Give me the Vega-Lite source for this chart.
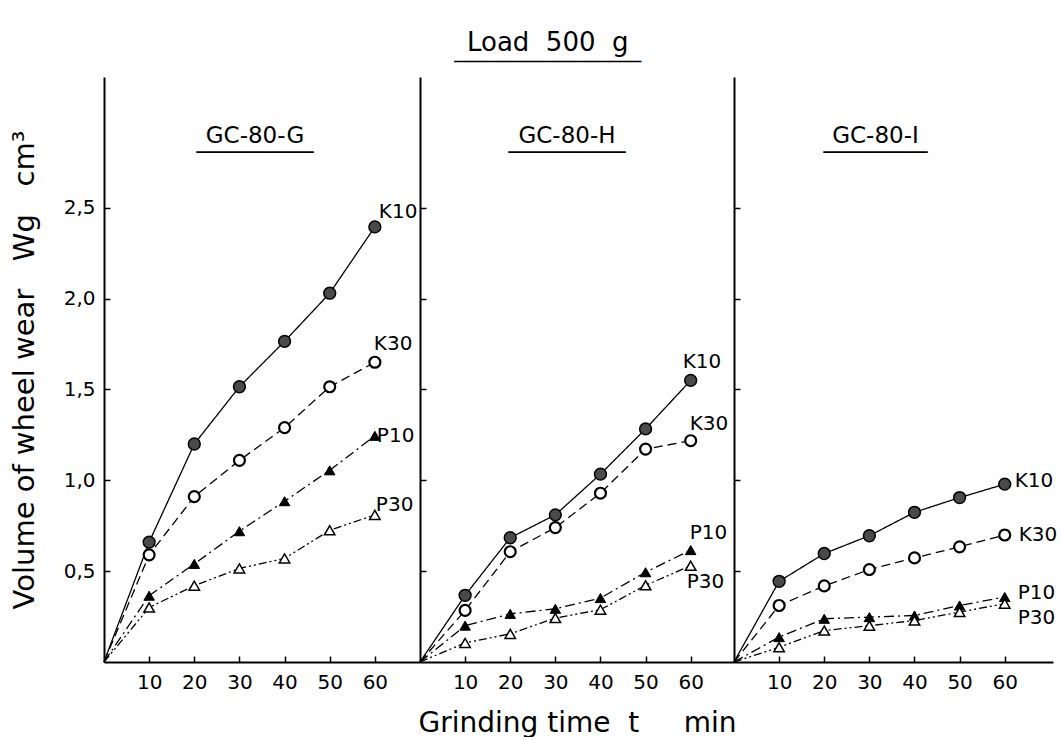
{
  "$schema": "https://vega.github.io/schema/vega-lite/v6.json",
  "background": "white",
  "padding": {"left": 10, "top": 30, "right": 0, "bottom": 0},
  "bounds": "flush",
  "spacing": 0,
  "title": {
    "text": "Load\u00a0\u00a0500\u00a0\u00a0g",
    "subtitle": "\u203e\u203e\u203e\u203e\u203e\u203e\u203e\u203e\u203e\u203e\u203e\u203e\u203e\u203e\u203e\u203e\u203e",
    "fontSize": 26,
    "fontWeight": "normal",
    "subtitleFontSize": 22,
    "subtitlePadding": 4,
    "anchor": "middle",
    "frame": "bounds",
    "dx": 14,
    "offset": -4,
    "color": "black",
    "subtitleColor": "black"
  },
  "config": {
    "font": "DejaVu Sans",
    "view": {"stroke": null},
    "axis": {
      "domainColor": "black",
      "domainWidth": 2,
      "tickColor": "black",
      "tickWidth": 1.5,
      "labelColor": "black",
      "titleColor": "black",
      "labelFontSize": 20,
      "titleFontSize": 29,
      "titleFontWeight": "normal",
      "grid": false
    }
  },
  "datasets": {
    "wear": [
      {"panel": "GC-80-G", "series": "K10", "t": 0, "v": 0},
      {"panel": "GC-80-G", "series": "K10", "t": 10, "v": 0.66},
      {"panel": "GC-80-G", "series": "K10", "t": 20, "v": 1.2},
      {"panel": "GC-80-G", "series": "K10", "t": 30, "v": 1.515},
      {"panel": "GC-80-G", "series": "K10", "t": 40, "v": 1.765},
      {"panel": "GC-80-G", "series": "K10", "t": 50, "v": 2.03},
      {"panel": "GC-80-G", "series": "K10", "t": 60, "v": 2.395},
      {"panel": "GC-80-G", "series": "K30", "t": 0, "v": 0},
      {"panel": "GC-80-G", "series": "K30", "t": 10, "v": 0.59},
      {"panel": "GC-80-G", "series": "K30", "t": 20, "v": 0.91},
      {"panel": "GC-80-G", "series": "K30", "t": 30, "v": 1.11},
      {"panel": "GC-80-G", "series": "K30", "t": 40, "v": 1.29},
      {"panel": "GC-80-G", "series": "K30", "t": 50, "v": 1.515},
      {"panel": "GC-80-G", "series": "K30", "t": 60, "v": 1.65},
      {"panel": "GC-80-G", "series": "P10", "t": 0, "v": 0},
      {"panel": "GC-80-G", "series": "P10", "t": 10, "v": 0.365},
      {"panel": "GC-80-G", "series": "P10", "t": 20, "v": 0.54},
      {"panel": "GC-80-G", "series": "P10", "t": 30, "v": 0.72},
      {"panel": "GC-80-G", "series": "P10", "t": 40, "v": 0.885},
      {"panel": "GC-80-G", "series": "P10", "t": 50, "v": 1.055},
      {"panel": "GC-80-G", "series": "P10", "t": 60, "v": 1.245},
      {"panel": "GC-80-G", "series": "P30", "t": 0, "v": 0},
      {"panel": "GC-80-G", "series": "P30", "t": 10, "v": 0.3},
      {"panel": "GC-80-G", "series": "P30", "t": 20, "v": 0.42},
      {"panel": "GC-80-G", "series": "P30", "t": 30, "v": 0.515},
      {"panel": "GC-80-G", "series": "P30", "t": 40, "v": 0.57},
      {"panel": "GC-80-G", "series": "P30", "t": 50, "v": 0.725},
      {"panel": "GC-80-G", "series": "P30", "t": 60, "v": 0.81},
      {"panel": "GC-80-H", "series": "K10", "t": 0, "v": 0},
      {"panel": "GC-80-H", "series": "K10", "t": 10, "v": 0.367},
      {"panel": "GC-80-H", "series": "K10", "t": 20, "v": 0.684},
      {"panel": "GC-80-H", "series": "K10", "t": 30, "v": 0.81},
      {"panel": "GC-80-H", "series": "K10", "t": 40, "v": 1.034},
      {"panel": "GC-80-H", "series": "K10", "t": 50, "v": 1.283},
      {"panel": "GC-80-H", "series": "K10", "t": 60, "v": 1.55},
      {"panel": "GC-80-H", "series": "K30", "t": 0, "v": 0},
      {"panel": "GC-80-H", "series": "K30", "t": 10, "v": 0.284},
      {"panel": "GC-80-H", "series": "K30", "t": 20, "v": 0.607},
      {"panel": "GC-80-H", "series": "K30", "t": 30, "v": 0.74},
      {"panel": "GC-80-H", "series": "K30", "t": 40, "v": 0.929},
      {"panel": "GC-80-H", "series": "K30", "t": 50, "v": 1.172},
      {"panel": "GC-80-H", "series": "K30", "t": 60, "v": 1.218},
      {"panel": "GC-80-H", "series": "P10", "t": 0, "v": 0},
      {"panel": "GC-80-H", "series": "P10", "t": 10, "v": 0.2},
      {"panel": "GC-80-H", "series": "P10", "t": 20, "v": 0.265},
      {"panel": "GC-80-H", "series": "P10", "t": 30, "v": 0.293},
      {"panel": "GC-80-H", "series": "P10", "t": 40, "v": 0.352},
      {"panel": "GC-80-H", "series": "P10", "t": 50, "v": 0.494},
      {"panel": "GC-80-H", "series": "P10", "t": 60, "v": 0.616},
      {"panel": "GC-80-H", "series": "P30", "t": 0, "v": 0},
      {"panel": "GC-80-H", "series": "P30", "t": 10, "v": 0.105},
      {"panel": "GC-80-H", "series": "P30", "t": 20, "v": 0.155},
      {"panel": "GC-80-H", "series": "P30", "t": 30, "v": 0.242},
      {"panel": "GC-80-H", "series": "P30", "t": 40, "v": 0.288},
      {"panel": "GC-80-H", "series": "P30", "t": 50, "v": 0.422},
      {"panel": "GC-80-H", "series": "P30", "t": 60, "v": 0.53},
      {"panel": "GC-80-I", "series": "K10", "t": 0, "v": 0},
      {"panel": "GC-80-I", "series": "K10", "t": 10, "v": 0.444},
      {"panel": "GC-80-I", "series": "K10", "t": 20, "v": 0.597},
      {"panel": "GC-80-I", "series": "K10", "t": 30, "v": 0.695},
      {"panel": "GC-80-I", "series": "K10", "t": 40, "v": 0.824},
      {"panel": "GC-80-I", "series": "K10", "t": 50, "v": 0.905},
      {"panel": "GC-80-I", "series": "K10", "t": 60, "v": 0.979},
      {"panel": "GC-80-I", "series": "K30", "t": 0, "v": 0},
      {"panel": "GC-80-I", "series": "K30", "t": 10, "v": 0.311},
      {"panel": "GC-80-I", "series": "K30", "t": 20, "v": 0.419},
      {"panel": "GC-80-I", "series": "K30", "t": 30, "v": 0.509},
      {"panel": "GC-80-I", "series": "K30", "t": 40, "v": 0.573},
      {"panel": "GC-80-I", "series": "K30", "t": 50, "v": 0.634},
      {"panel": "GC-80-I", "series": "K30", "t": 60, "v": 0.699},
      {"panel": "GC-80-I", "series": "P10", "t": 0, "v": 0},
      {"panel": "GC-80-I", "series": "P10", "t": 10, "v": 0.137},
      {"panel": "GC-80-I", "series": "P10", "t": 20, "v": 0.238},
      {"panel": "GC-80-I", "series": "P10", "t": 30, "v": 0.247},
      {"panel": "GC-80-I", "series": "P10", "t": 40, "v": 0.256},
      {"panel": "GC-80-I", "series": "P10", "t": 50, "v": 0.311},
      {"panel": "GC-80-I", "series": "P10", "t": 60, "v": 0.358},
      {"panel": "GC-80-I", "series": "P30", "t": 0, "v": 0},
      {"panel": "GC-80-I", "series": "P30", "t": 10, "v": 0.081},
      {"panel": "GC-80-I", "series": "P30", "t": 20, "v": 0.173},
      {"panel": "GC-80-I", "series": "P30", "t": 30, "v": 0.2},
      {"panel": "GC-80-I", "series": "P30", "t": 40, "v": 0.228},
      {"panel": "GC-80-I", "series": "P30", "t": 50, "v": 0.275},
      {"panel": "GC-80-I", "series": "P30", "t": 60, "v": 0.321}
    ]
  },
  "hconcat": [
    {
      "width": 316,
      "height": 585,
      "title": {"text": "GC-80-G", "subtitle": "\u203e\u203e\u203e\u203e\u203e\u203e\u203e\u203e\u203e", "orient": "top", "anchor": "middle", "frame": "group",
        "offset": -99, "dx": -7, "fontSize": 23, "fontWeight": "normal", "subtitleFontSize": 26, "subtitlePadding": 2,
        "color": "black", "subtitleColor": "black"},
      "data": {"name": "wear"},
      "transform": [{"filter": "datum.panel === 'GC-80-G'"}],
      "encoding": {
        "x": {"field": "t", "type": "quantitative", "scale": {"domain": [0, 70], "nice": false},
          "axis": {"values": [10, 20, 30, 40, 50, 60], "tickSize": -6, "labelPadding": 16, "title": null}},
        "y": {"field": "v", "type": "quantitative", "scale": {"domain": [0, 3.22], "nice": false},
          "axis": {"values": [0.5, 1, 1.5, 2, 2.5], "tickSize": -6, "labelPadding": 15,
            "labelExpr": "replace(format(datum.value, '.1f'), '.', ',')",
            "title": "Volume of wheel wear\u00a0\u00a0\u00a0Wg\u00a0\u00a0\u00a0cm³", "titlePadding": 24}}
      },
      "layer": [
        {"mark": {"type": "line", "color": "black", "strokeWidth": 1.3},
          "encoding": {"strokeDash": {"field": "series", "type": "nominal",
            "scale": {"domain": ["K10", "K30", "P10", "P30"], "range": [[1, 0], [9, 5], [10, 4, 2, 4], [8, 3, 2, 3, 2, 3]]}, "legend": null}}},
        {"transform": [{"filter": "datum.t > 0 && datum.series === 'K10'"}],
          "mark": {"type": "point", "shape": "circle", "size": 140, "filled": true, "fill": "#4a4a4a", "stroke": "black", "strokeWidth": 1.5, "opacity": 1}},
        {"transform": [{"filter": "datum.t > 0 && datum.series === 'K30'"}],
          "mark": {"type": "point", "shape": "circle", "size": 120, "filled": false, "fill": "white", "stroke": "black", "strokeWidth": 2.2, "opacity": 1}},
        {"transform": [{"filter": "datum.t > 0 && datum.series === 'P10'"}],
          "mark": {"type": "point", "shape": "triangle-up", "size": 110, "filled": true, "fill": "black", "stroke": "black", "strokeWidth": 1, "opacity": 1}},
        {"transform": [{"filter": "datum.t > 0 && datum.series === 'P30'"}],
          "mark": {"type": "point", "shape": "triangle-up", "size": 110, "filled": false, "fill": "white", "stroke": "black", "strokeWidth": 1.5, "opacity": 1}},
        {"transform": [{"filter": "datum.t === 60 && datum.series === 'K10'"}],
          "mark": {"type": "text", "align": "left", "baseline": "middle", "dx": 4, "dy": -15, "fontSize": 20}, "encoding": {"text": {"field": "series"}}},
        {"transform": [{"filter": "datum.t === 60 && datum.series === 'K30'"}],
          "mark": {"type": "text", "align": "left", "baseline": "middle", "dx": -1, "dy": -18, "fontSize": 20}, "encoding": {"text": {"field": "series"}}},
        {"transform": [{"filter": "datum.t === 60 && datum.series === 'P10'"}],
          "mark": {"type": "text", "align": "left", "baseline": "middle", "dx": 2, "dy": 0, "fontSize": 20}, "encoding": {"text": {"field": "series"}}},
        {"transform": [{"filter": "datum.t === 60 && datum.series === 'P30'"}],
          "mark": {"type": "text", "align": "left", "baseline": "middle", "dx": 1, "dy": -10, "fontSize": 20}, "encoding": {"text": {"field": "series"}}}
      ]
    },
    {
      "width": 314,
      "height": 585,
      "title": {"text": "GC-80-H", "subtitle": "\u203e\u203e\u203e\u203e\u203e\u203e\u203e\u203e\u203e", "orient": "top", "anchor": "middle", "frame": "group",
        "offset": -99, "dx": -10, "fontSize": 23, "fontWeight": "normal", "subtitleFontSize": 26, "subtitlePadding": 2,
        "color": "black", "subtitleColor": "black"},
      "data": {"name": "wear"},
      "transform": [{"filter": "datum.panel === 'GC-80-H'"}],
      "encoding": {
        "x": {"field": "t", "type": "quantitative", "scale": {"domain": [0, 69.6], "nice": false},
          "axis": {"values": [10, 20, 30, 40, 50, 60], "tickSize": -6, "labelPadding": 16,
            "title": "Grinding time\u00a0\u00a0t\u00a0\u00a0\u00a0\u00a0\u00a0min", "titleFontSize": 28, "titlePadding": 17}},
        "y": {"field": "v", "type": "quantitative", "scale": {"domain": [0, 3.22], "nice": false},
          "axis": {"values": [0.5, 1, 1.5, 2, 2.5], "tickSize": -6, "labels": false, "title": null}}
      },
      "layer": [
        {"mark": {"type": "line", "color": "black", "strokeWidth": 1.3},
          "encoding": {"strokeDash": {"field": "series", "type": "nominal",
            "scale": {"domain": ["K10", "K30", "P10", "P30"], "range": [[1, 0], [9, 5], [10, 4, 2, 4], [8, 3, 2, 3, 2, 3]]}, "legend": null}}},
        {"transform": [{"filter": "datum.t > 0 && datum.series === 'K10'"}],
          "mark": {"type": "point", "shape": "circle", "size": 140, "filled": true, "fill": "#4a4a4a", "stroke": "black", "strokeWidth": 1.5, "opacity": 1}},
        {"transform": [{"filter": "datum.t > 0 && datum.series === 'K30'"}],
          "mark": {"type": "point", "shape": "circle", "size": 120, "filled": false, "fill": "white", "stroke": "black", "strokeWidth": 2.2, "opacity": 1}},
        {"transform": [{"filter": "datum.t > 0 && datum.series === 'P10'"}],
          "mark": {"type": "point", "shape": "triangle-up", "size": 110, "filled": true, "fill": "black", "stroke": "black", "strokeWidth": 1, "opacity": 1}},
        {"transform": [{"filter": "datum.t > 0 && datum.series === 'P30'"}],
          "mark": {"type": "point", "shape": "triangle-up", "size": 110, "filled": false, "fill": "white", "stroke": "black", "strokeWidth": 1.5, "opacity": 1}},
        {"transform": [{"filter": "datum.t === 60 && datum.series === 'K10'"}],
          "mark": {"type": "text", "align": "left", "baseline": "middle", "dx": -8, "dy": -18, "fontSize": 20}, "encoding": {"text": {"field": "series"}}},
        {"transform": [{"filter": "datum.t === 60 && datum.series === 'K30'"}],
          "mark": {"type": "text", "align": "left", "baseline": "middle", "dx": -1, "dy": -17, "fontSize": 20}, "encoding": {"text": {"field": "series"}}},
        {"transform": [{"filter": "datum.t === 60 && datum.series === 'P10'"}],
          "mark": {"type": "text", "align": "left", "baseline": "middle", "dx": -1, "dy": -17, "fontSize": 20}, "encoding": {"text": {"field": "series"}}},
        {"transform": [{"filter": "datum.t === 60 && datum.series === 'P30'"}],
          "mark": {"type": "text", "align": "left", "baseline": "middle", "dx": -4, "dy": 16, "fontSize": 20}, "encoding": {"text": {"field": "series"}}}
      ]
    },
    {
      "width": 319,
      "height": 585,
      "title": {"text": "GC-80-I", "subtitle": "\u203e\u203e\u203e\u203e\u203e\u203e\u203e\u203e", "orient": "top", "anchor": "middle", "frame": "group",
        "offset": -99, "dx": -18, "fontSize": 23, "fontWeight": "normal", "subtitleFontSize": 26, "subtitlePadding": 2,
        "color": "black", "subtitleColor": "black"},
      "data": {"name": "wear"},
      "transform": [{"filter": "datum.panel === 'GC-80-I'"}],
      "encoding": {
        "x": {"field": "t", "type": "quantitative", "scale": {"domain": [0, 70.7], "nice": false},
          "axis": {"values": [10, 20, 30, 40, 50, 60], "tickSize": -6, "labelPadding": 16, "title": null}},
        "y": {"field": "v", "type": "quantitative", "scale": {"domain": [0, 3.22], "nice": false},
          "axis": {"values": [0.5, 1, 1.5, 2, 2.5], "tickSize": -6, "labels": false, "title": null}}
      },
      "layer": [
        {"mark": {"type": "line", "color": "black", "strokeWidth": 1.3},
          "encoding": {"strokeDash": {"field": "series", "type": "nominal",
            "scale": {"domain": ["K10", "K30", "P10", "P30"], "range": [[1, 0], [9, 5], [10, 4, 2, 4], [8, 3, 2, 3, 2, 3]]}, "legend": null}}},
        {"transform": [{"filter": "datum.t > 0 && datum.series === 'K10'"}],
          "mark": {"type": "point", "shape": "circle", "size": 140, "filled": true, "fill": "#4a4a4a", "stroke": "black", "strokeWidth": 1.5, "opacity": 1}},
        {"transform": [{"filter": "datum.t > 0 && datum.series === 'K30'"}],
          "mark": {"type": "point", "shape": "circle", "size": 120, "filled": false, "fill": "white", "stroke": "black", "strokeWidth": 2.2, "opacity": 1}},
        {"transform": [{"filter": "datum.t > 0 && datum.series === 'P10'"}],
          "mark": {"type": "point", "shape": "triangle-up", "size": 110, "filled": true, "fill": "black", "stroke": "black", "strokeWidth": 1, "opacity": 1}},
        {"transform": [{"filter": "datum.t > 0 && datum.series === 'P30'"}],
          "mark": {"type": "point", "shape": "triangle-up", "size": 110, "filled": false, "fill": "white", "stroke": "black", "strokeWidth": 1.5, "opacity": 1}},
        {"transform": [{"filter": "datum.t === 60 && datum.series === 'K10'"}],
          "mark": {"type": "text", "align": "left", "baseline": "middle", "dx": 10, "dy": -3, "fontSize": 20}, "encoding": {"text": {"field": "series"}}},
        {"transform": [{"filter": "datum.t === 60 && datum.series === 'K30'"}],
          "mark": {"type": "text", "align": "left", "baseline": "middle", "dx": 14, "dy": 0, "fontSize": 20}, "encoding": {"text": {"field": "series"}}},
        {"transform": [{"filter": "datum.t === 60 && datum.series === 'P10'"}],
          "mark": {"type": "text", "align": "left", "baseline": "middle", "dx": 13, "dy": -4, "fontSize": 20}, "encoding": {"text": {"field": "series"}}},
        {"transform": [{"filter": "datum.t === 60 && datum.series === 'P30'"}],
          "mark": {"type": "text", "align": "left", "baseline": "middle", "dx": 13, "dy": 14, "fontSize": 20}, "encoding": {"text": {"field": "series"}}}
      ]
    }
  ]
}
